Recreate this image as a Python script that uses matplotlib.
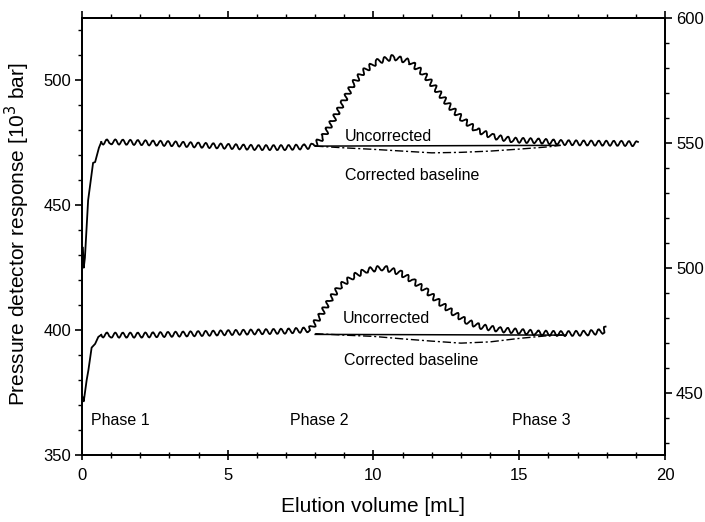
import matplotlib
matplotlib.use("Agg")
import matplotlib.pyplot as plt
from matplotlib.ticker import MultipleLocator

plt.rcParams['font.family'] = ['Liberation Sans', 'DejaVu Sans']

# ---- data ----
# upper trace (right axis, 10^3 bar)
up_start_x = [0.03, 0.06, 0.10, 0.21, 0.38, 0.45, 0.58, 0.66]
up_start_y = [508.0, 500.0, 504.0, 527.0, 542.0, 542.3, 548.0, 550.3]
up_x = [0.66, 1.0, 2.0, 3.0, 4.0, 5.0, 6.0, 7.0, 7.6, 7.94, 8.28, 8.62, 8.97, 9.31,
        9.65, 10.11, 10.68, 11.25, 11.71, 12.17, 12.62, 13.08, 13.54, 14.11,
        14.8, 15.6, 16.5, 17.5, 18.5, 19.07]
up_y = [550.3, 550.4, 550.1, 549.7, 549.1, 548.6, 548.1, 548.1, 548.4, 548.7, 552.5,
        559.2, 566.5, 573.8, 578.5, 582.5, 584.3, 582.5, 577.8, 571.2, 564.5,
        559.2, 555.1, 552.5, 551.1, 550.8, 550.1, 549.9, 549.8, 549.6]
up_uncorr_x = [8.0, 16.4]
up_uncorr_y = [548.7, 549.0]
up_corr_x = [8.0, 9.0, 10.0, 11.0, 12.0, 13.0, 14.0, 15.0, 16.0, 16.4]
up_corr_y = [548.7, 548.0, 547.4, 546.7, 546.0, 546.2, 546.7, 547.5, 548.4, 549.0]

# lower trace (left axis, 10^3 bar)
lo_start_x = [0.03, 0.06, 0.16, 0.22, 0.33, 0.45, 0.56, 0.66]
lo_start_y = [373.0, 371.5, 380.0, 384.0, 393.0, 394.5, 397.3, 398.1]
lo_x = [0.66, 1.0, 2.0, 3.0, 4.0, 5.0, 6.0, 7.0, 7.82, 8.16, 8.51, 8.85, 9.31, 9.77,
        10.34, 10.91, 11.37, 11.83, 12.28, 12.74, 13.2, 13.65, 14.34, 15.03,
        15.6, 16.5, 17.3, 17.85, 18.0]
lo_y = [398.1, 398.0, 398.0, 398.3, 398.6, 399.0, 399.3, 399.6, 400.2, 405.5, 412.2,
        417.6, 421.6, 424.0, 425.0, 423.0, 419.6, 415.6, 410.9, 406.9, 403.5,
        401.5, 400.2, 399.5, 398.9, 398.6, 398.8, 399.5, 400.8]
lo_uncorr_x = [8.0, 16.6]
lo_uncorr_y = [398.3, 398.0]
lo_corr_x = [8.0, 9.0, 10.0, 11.0, 12.0, 13.0, 14.0, 15.0, 16.0, 16.6]
lo_corr_y = [398.6, 398.0, 397.5, 396.5, 395.6, 394.8, 395.3, 396.7, 397.8, 398.2]

x_ticks = [0, 5, 10, 15, 20]
left_ticks = [350, 400, 450, 500]
right_ticks = [450, 500, 550, 600]

# ---- figure ----
fig = plt.figure(figsize=(7.05, 5.22), dpi=100)
ax = fig.add_axes([82/705, 67/522, 583/705, 437/522])
ax2 = ax.twinx()

ax.set_xlim(0, 20)
ax.set_ylim(350, 525)
ax2.set_ylim(425, 600)

lw = 1.3
# lower trace on left axis
ax.plot(lo_start_x, lo_start_y, color='black', lw=lw)
l1, = ax.plot(lo_x, lo_y, color='black', lw=lw)
l1.set_sketch_params(scale=2.6, length=7.5, randomness=1.0)
ax.plot(lo_uncorr_x, lo_uncorr_y, color='black', lw=1.1)
ax.plot(lo_corr_x, lo_corr_y, color='black', lw=1.0, ls=(0, (6, 2, 1.5, 2)))

# upper trace on right axis
ax2.plot(up_start_x, up_start_y, color='black', lw=lw)
l2, = ax2.plot(up_x, up_y, color='black', lw=lw)
l2.set_sketch_params(scale=2.6, length=7.5, randomness=1.0)
ax2.plot(up_uncorr_x, up_uncorr_y, color='black', lw=1.1)
ax2.plot(up_corr_x, up_corr_y, color='black', lw=1.0, ls=(0, (6, 2, 1.5, 2)))

# annotations
tfs = 11.5
ax.text(10.5, 477.7, 'Uncorrected', ha='center', va='center', fontsize=tfs)
ax.text(11.34, 462.0, 'Corrected baseline', ha='center', va='center', fontsize=tfs)
ax.text(10.45, 404.7, 'Uncorrected', ha='center', va='center', fontsize=tfs)
ax.text(11.3, 388.0, 'Corrected baseline', ha='center', va='center', fontsize=tfs)
ax.text(1.3, 364, 'Phase 1', ha='center', va='center', fontsize=tfs)
ax.text(8.13, 364, 'Phase 2', ha='center', va='center', fontsize=tfs)
ax.text(15.76, 364, 'Phase 3', ha='center', va='center', fontsize=tfs)

# ticks
ax.set_xticks(x_ticks)
ax.xaxis.set_minor_locator(MultipleLocator(1))
ax.set_yticks(left_ticks)
ax.yaxis.set_minor_locator(MultipleLocator(10))
ax2.set_yticks(right_ticks)
ax2.yaxis.set_minor_locator(MultipleLocator(10))

ax.tick_params(axis='x', which='major', direction='inout', length=7, width=1.2, labelsize=12, pad=6)
ax.tick_params(axis='x', which='minor', direction='inout', length=4, width=1.0)
ax.tick_params(axis='y', which='major', direction='out', length=5, width=1.2, labelsize=12, pad=3)
ax.tick_params(axis='y', which='minor', direction='out', length=3, width=1.0)
ax2.tick_params(axis='y', which='major', direction='out', length=5, width=1.2, labelsize=12, pad=3)
ax2.tick_params(axis='y', which='minor', direction='out', length=3, width=1.0)

top = ax.secondary_xaxis('top')
top.set_xticks(x_ticks)
top.xaxis.set_minor_locator(MultipleLocator(1))
top.tick_params(axis='x', which='major', direction='out', length=5, width=1.2, labeltop=False)
top.tick_params(axis='x', which='minor', direction='out', length=3, width=1.0)
top.spines['top'].set_linewidth(1.3)

for a in (ax, ax2):
    for s in a.spines.values():
        s.set_linewidth(1.3)

ax.set_xlabel('Elution volume [mL]', fontsize=15)
ax.set_ylabel('Pressure detector response [10$^3$ bar]', fontsize=15)
ax.xaxis.set_label_coords(0.5, -0.095)
ax.yaxis.set_label_coords(-0.085, 0.505)

fig.savefig('out.png', dpi=100)
